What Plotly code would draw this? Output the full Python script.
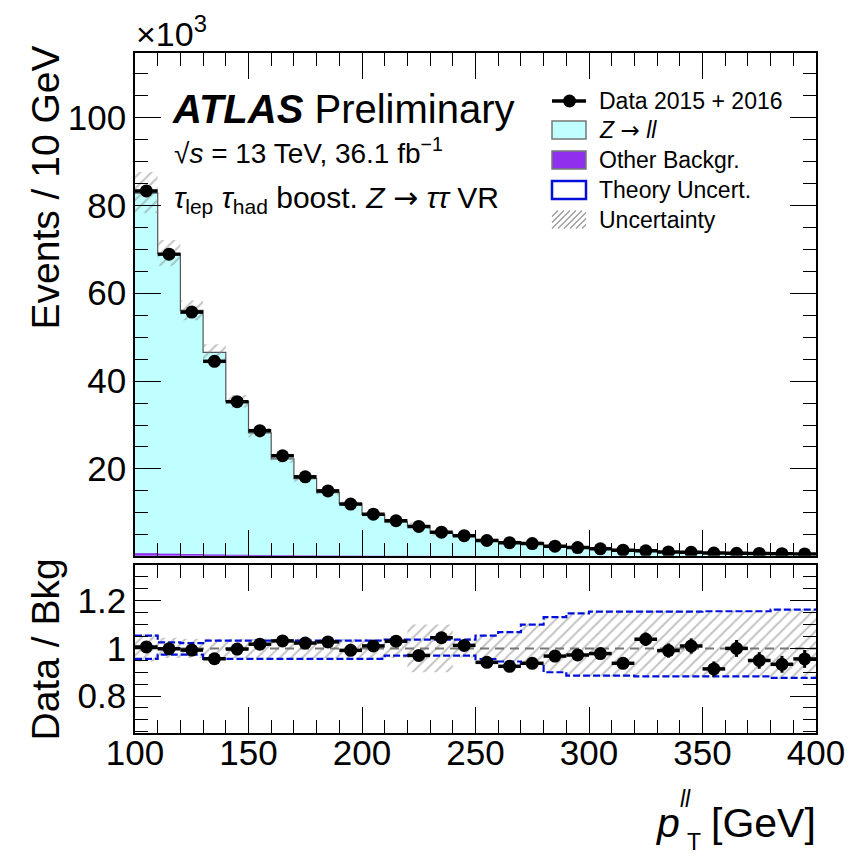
import numpy as np
import plotly.graph_objects as go

# ---------------- data (values in units of 10^3 events) ----------------
bin_edges = list(range(100, 410, 10))
data_k = [83.3, 68.9, 55.7, 44.5, 35.3, 28.7, 23.0, 18.2, 15.0, 12.0,
          9.7, 8.2, 6.9, 5.6, 4.8, 3.7, 3.2, 3.0, 2.4, 2.1,
          1.8, 1.5, 1.35, 1.1, 1.0, 0.85, 0.8, 0.75, 0.7, 0.65]
zll_k = [82.1, 68.4, 55.6, 46.1, 35.05, 27.9, 22.05, 17.59, 14.42, 11.95,
         9.47, 7.85, 7.01, 5.27, 4.66, 3.86, 3.40, 3.145, 2.43, 2.115,
         1.80, 1.565, 1.27, 1.08, 0.965, 0.905, 0.78, 0.77, 0.73, 0.665]
other_k = [0.70, 0.60, 0.50, 0.42, 0.35, 0.30, 0.25, 0.21, 0.18, 0.15,
           0.13, 0.11, 0.10, 0.09, 0.08, 0.07, 0.06, 0.055, 0.05, 0.045,
           0.04, 0.035, 0.03, 0.03, 0.025, 0.025, 0.02, 0.02, 0.02, 0.015]
# total uncertainty (relative, hatched band)
unc_hi = [1.058, 1.045, 1.040, 1.040, 1.040, 1.040, 1.040, 1.040, 1.040, 1.040,
          1.040, 1.040, 1.100, 1.100, 1.045, 1.058, 1.072, 1.103, 1.134, 1.150,
          1.157, 1.157, 1.157, 1.157, 1.157, 1.159, 1.159, 1.159, 1.166, 1.166]
unc_lo = [0.945, 0.960, 0.960, 0.960, 0.960, 0.960, 0.960, 0.960, 0.960, 0.960,
          0.960, 0.960, 0.900, 0.900, 0.962, 0.952, 0.942, 0.932, 0.897, 0.883,
          0.883, 0.883, 0.880, 0.880, 0.880, 0.880, 0.880, 0.880, 0.873, 0.873]
# theory uncertainty (relative, blue dashed)
theo_hi = [1.054, 1.025, 1.022, 1.033, 1.033, 1.033, 1.033, 1.033, 1.033, 1.033,
           1.033, 1.037, 1.037, 1.037, 1.037, 1.054, 1.068, 1.100, 1.131, 1.147,
           1.154, 1.154, 1.154, 1.154, 1.154, 1.156, 1.156, 1.156, 1.163, 1.163]
theo_lo = [0.956, 0.974, 0.974, 0.956, 0.956, 0.956, 0.956, 0.956, 0.956, 0.956,
           0.956, 0.970, 0.970, 0.970, 0.970, 0.955, 0.945, 0.935, 0.900, 0.886,
           0.886, 0.886, 0.883, 0.883, 0.883, 0.883, 0.883, 0.883, 0.876, 0.876]
x_tick_labels = ["100", "150", "200", "250", "300", "350", "400"]

# ---------------- derived ----------------
edges = np.array(bin_edges, dtype=float)
centers = 0.5 * (edges[:-1] + edges[1:])
half = 0.5 * np.diff(edges)
data = np.array(data_k)
other = np.array(other_k)
total = other + np.array(zll_k)
data_err = np.sqrt(data * 1000.0) / 1000.0
ratio = data / total
ratio_err = data_err / total

def step(vals):
    v = list(vals)
    return v + [v[-1]]

def band(lo, hi):
    xs, ys = [], []
    for i in range(len(lo)):
        xs += [edges[i], edges[i + 1]]
        ys += [hi[i], hi[i]]
    for i in reversed(range(len(lo))):
        xs += [edges[i + 1], edges[i]]
        ys += [lo[i], lo[i]]
    return xs + [xs[0]], ys + [ys[0]]

FONT = "Liberation Sans, Arial, Helvetica, sans-serif"
ARROW = '<span style="font-family:DejaVu Sans">→</span>'
W, H = 864, 857
L, R, T, B = 135, 48, 53, 124
PW, PH = W - L - R, H - T - B

def px(x):
    return (x - L) / PW

def py(y):
    return 1 - (y - T) / PH

CYAN = "#bfffff"
PURPLE = "#9030ee"
HATCH = dict(shape="/", fgcolor="#858585", bgcolor="rgba(0,0,0,0)", size=8, solidity=0.24)

fig = go.Figure()

# ---- top panel ----
fig.add_trace(go.Scatter(x=edges, y=step(other), mode="lines", line_shape="hv",
                         line=dict(color=PURPLE, width=1), fill="tozeroy",
                         fillcolor=PURPLE, xaxis="x", yaxis="y", showlegend=False))
fig.add_trace(go.Scatter(x=edges, y=step(total), mode="lines", line_shape="hv",
                         line=dict(color="#555555", width=1.2), fill="tonexty",
                         fillcolor=CYAN, xaxis="x", yaxis="y", showlegend=False))
bx, by = band(total * np.array(unc_lo), total * np.array(unc_hi))
fig.add_trace(go.Scatter(x=bx, y=by, mode="lines", line=dict(width=0),
                         fill="toself", fillcolor="rgba(0,0,0,0)", fillpattern=HATCH,
                         xaxis="x", yaxis="y", showlegend=False, hoverinfo="skip"))
fig.add_trace(go.Scatter(x=centers, y=data, mode="markers",
                         marker=dict(color="black", size=13),
                         error_x=dict(type="data", array=half, width=0, thickness=3.5, color="black"),
                         error_y=dict(type="data", array=data_err, width=0, thickness=3, color="black"),
                         xaxis="x", yaxis="y", showlegend=False))

# ---- ratio panel ----
rx, ry = band(unc_lo, unc_hi)
fig.add_trace(go.Scatter(x=rx, y=ry, mode="lines", line=dict(width=0),
                         fill="toself", fillcolor="rgba(0,0,0,0)", fillpattern=HATCH,
                         xaxis="x2", yaxis="y2", showlegend=False, hoverinfo="skip"))
for arr in (theo_hi, theo_lo):
    fig.add_trace(go.Scatter(x=edges, y=step(arr), mode="lines", line_shape="hv",
                             line=dict(color="#0010d8", width=2.2, dash="7px,3px"),
                             xaxis="x2", yaxis="y2", showlegend=False))
fig.add_trace(go.Scatter(x=[edges[0], edges[-1]], y=[1, 1], mode="lines",
                         line=dict(color="#777777", width=2, dash="9px,6px"),
                         xaxis="x2", yaxis="y2", showlegend=False))
fig.add_trace(go.Scatter(x=centers, y=ratio, mode="markers",
                         marker=dict(color="black", size=13),
                         error_x=dict(type="data", array=half, width=0, thickness=3.5, color="black"),
                         error_y=dict(type="data", array=ratio_err, width=0, thickness=3, color="black"),
                         xaxis="x2", yaxis="y2", showlegend=False))

axis_common = dict(showline=True, linecolor="black", linewidth=1.6, mirror="ticks",
                   ticks="inside", tickcolor="black", tickwidth=1.3, showgrid=False,
                   zeroline=False, tickfont=dict(family=FONT, size=35, color="black"))

fig.update_layout(
    width=W, height=H, margin=dict(l=L, r=R, t=T, b=B),
    paper_bgcolor="white", plot_bgcolor="white", showlegend=False,
    xaxis=dict(domain=[0, 1], range=[100, 400], anchor="y", showticklabels=False,
               tick0=100, dtick=50, ticklen=26,
               minor=dict(ticks="inside", ticklen=13, dtick=10, tickcolor="black", tickwidth=1.3),
               **axis_common),
    yaxis=dict(domain=[(733 - 555.7) / PH, 1], range=[0.24, 114.7], anchor="x",
               tick0=0, dtick=20, ticklen=26,
               minor=dict(ticks="inside", ticklen=13, dtick=5, tickcolor="black", tickwidth=1.3),
               **axis_common),
    xaxis2=dict(domain=[0, 1], range=[100, 400], anchor="y2", matches="x",
                tickmode="array", tickvals=[100, 150, 200, 250, 300, 350, 400],
                ticktext=x_tick_labels, ticklen=26, ticklabelstandoff=-12,
                minor=dict(ticks="inside", ticklen=13, dtick=10, tickcolor="black", tickwidth=1.3),
                **axis_common),
    yaxis2=dict(domain=[0, (733 - 565) / PH], range=[0.645, 1.35], anchor="x2",
                tick0=0.8, dtick=0.2, ticklen=26,
                minor=dict(ticks="inside", ticklen=13, dtick=0.05, tickcolor="black", tickwidth=1.3),
                **axis_common),
)

ann = []
def text(t, x, y, size, xa="left", ya="middle", angle=0):
    ann.append(dict(text=t, x=px(x), y=py(y), xref="paper", yref="paper",
                    xanchor=xa, yanchor=ya, showarrow=False, textangle=angle,
                    font=dict(family=FONT, size=size, color="black")))

text("×10<sup>3</sup>", 134, 55, 34, ya="bottom")
text("Events / 10 GeV", 68, 44, 39, xa="right", ya="top", angle=-90)
text("Data / Bkg", 68, 649, 39, xa="right", ya="middle", angle=-90)
text("[GeV]", 818, 823, 41, xa="right")
text("<i>p</i>", 682, 823, 41, xa="right")
text("<i>ll</i>", 678, 799, 23)
text("T", 685, 842, 23)
text("<b><i>ATLAS</i></b> Preliminary", 170, 109, 40)
text("√<i>s</i> = 13 TeV, 36.1 fb<sup>−1</sup>", 172, 151, 28)
text("<i>τ</i><sub>lep</sub> <i>τ</i><sub>had</sub> boost. <i>Z</i> " + ARROW + " <i>ττ</i> VR",
     172, 199, 30)

legend_rows = [101, 130, 160, 190, 219.5]
legend_labels = ["Data 2015 + 2016", "<i>Z</i> " + ARROW + " <i>ll</i>", "Other Backgr.",
                 "Theory Uncert.", "Uncertainty"]
for lab, yy in zip(legend_labels, legend_rows):
    text(lab, 597, yy, 23)

shapes = []
x0l, x1l = 552, 586
# data symbol
shapes.append(dict(type="line", xref="paper", yref="paper", x0=px(x0l), x1=px(x1l),
                   y0=py(legend_rows[0]), y1=py(legend_rows[0]),
                   line=dict(color="black", width=3.5)))
shapes.append(dict(type="circle", xref="paper", yref="paper", x0=px(563), x1=px(576),
                   y0=py(legend_rows[0] + 6.5), y1=py(legend_rows[0] - 6.5),
                   fillcolor="black", line=dict(color="black", width=0)))
boxes = [(legend_rows[1], CYAN, "#777777", 1.5), (legend_rows[2], PURPLE, "#777777", 1.5),
         (legend_rows[3], "white", "#0010d8", 2.5)]
for yy, fc, lc, lw in boxes:
    shapes.append(dict(type="rect", xref="paper", yref="paper", x0=px(x0l), x1=px(x1l),
                       y0=py(yy + 9), y1=py(yy - 9), fillcolor=fc, line=dict(color=lc, width=lw)))
# hatched symbol
yy = legend_rows[4]
ytop, ybot = yy - 9, yy + 9
hh = ybot - ytop
path = ""
a = x0l - hh
while a < x1l:
    xa, ya_ = a, ybot
    xb, yb = a + hh, ytop
    if xa < x0l:
        ya_ = ybot - (x0l - xa)
        xa = x0l
    if xb > x1l:
        yb = ytop + (xb - x1l)
        xb = x1l
    path += f"M{px(xa)},{py(ya_)} L{px(xb)},{py(yb)} "
    a += 6
shapes.append(dict(type="path", xref="paper", yref="paper", path=path,
                   line=dict(color="#9a9a9a", width=1.3)))

fig.update_layout(annotations=ann, shapes=shapes)
fig.write_html("out.html")
